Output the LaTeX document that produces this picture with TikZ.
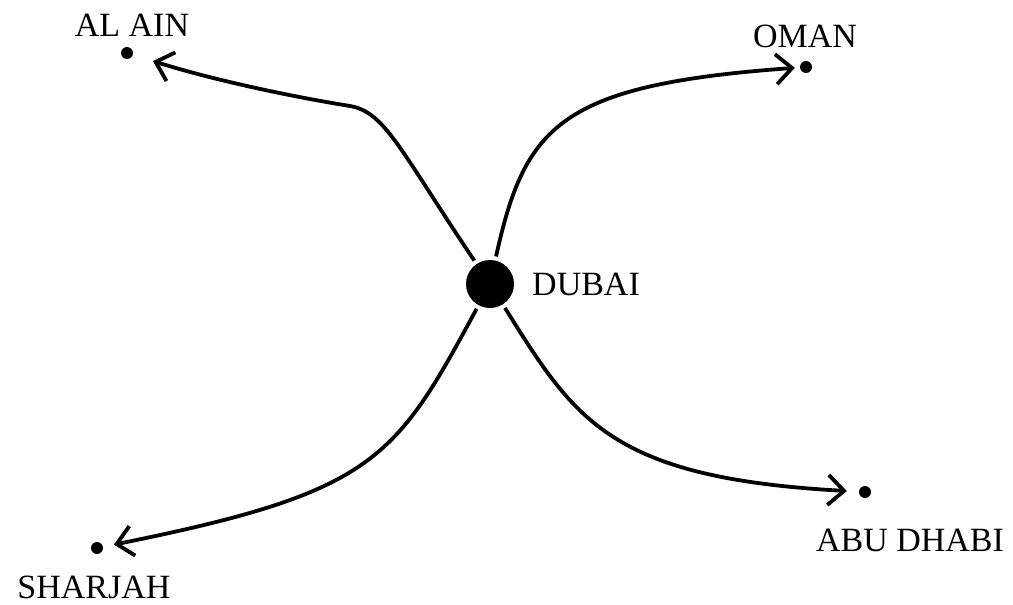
\documentclass[tikz,border=0pt]{standalone}
\usepackage{fontspec}
\setmainfont{Liberation Serif}
\usetikzlibrary{arrows.meta}

\begin{document}
\begin{tikzpicture}[x=1pt,y=-1pt,
        hub/.style={circle,fill,inner sep=0pt,minimum size=48pt},
        city/.style={circle,fill,inner sep=0pt,minimum size=12pt},
        place/.style={inner sep=0pt,font=\fontsize{34}{40}\selectfont},
        road/.style={->,line width=3.8pt,shorten <=4pt,>={Straight Barb[length=16pt,width=30pt]}}]
        \useasboundingbox (0,0) rectangle (1013,605);

        \node [hub] (dubai) at (490,284) {};
        \node [city] (alain) at (127,53) {};
        \node [city] (oman) at (806,67) {};
        \node [city] (sharjah) at (97,548) {};
        \node [city] (abudhabi) at (865,492) {};

        \node [place,anchor=west] (dubai-l) at (532,284) {DUBAI};
        \node [place] (alain-l) at (132,25) {AL AIN};
        \node [place] (oman-l) at (805,36) {OMAN};
        \node [place] (sharjah-l) at (94,587) {SHARJAH};
        \node [place] (abudhabi-l) at (910,540) {ABU DHABI};

        \draw[road,shorten >=21pt] (dubai) .. controls (400,150) and (385,112) .. (350,106)
                .. controls (300,98) and (220,82) .. (alain);
        \draw[road,shorten >=5pt] (dubai) .. controls (525,125) and (560,85) .. (oman);
        \draw[road,shorten >=11pt] (dubai) .. controls (395,460) and (375,492) .. (sharjah);
        \draw[road,shorten >=12pt] (dubai) .. controls (575,420) and (610,478) .. (abudhabi);
\end{tikzpicture}
\end{document}
